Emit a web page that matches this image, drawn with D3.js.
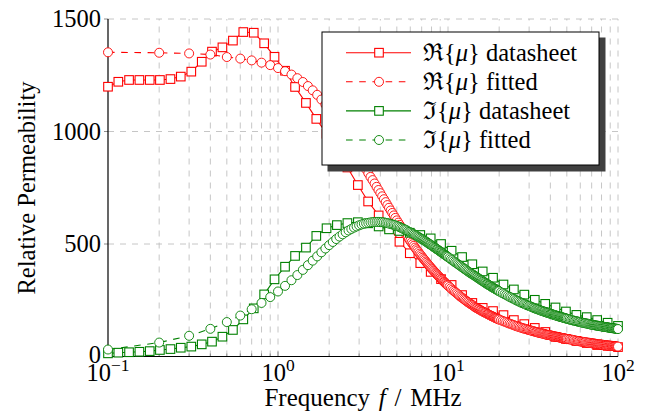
<!DOCTYPE html>
<html><head><meta charset="utf-8">
<script src="https://cdn.jsdelivr.net/npm/d3@7"></script>
<style>
body{margin:0;background:#fff;}
svg{display:block;}
</style></head><body>
<svg id="chart" width="646" height="413" font-family="'Liberation Serif', Tinos, 'Times New Roman', Times, 'DejaVu Serif', serif"></svg>
<script>
// ---------- data ----------
const dsFreq = [0.1,0.115,0.133,0.153,0.176,0.202,0.233,0.268,0.309,0.356,0.409,0.471,0.543,0.625,0.720,0.829,0.954,1.10,1.26,1.46,1.68,1.93,2.22,2.56,2.95,3.39,3.91,4.50,5.18,5.96,6.87,7.91,9.10,10.5,12.1,13.9,16.0,18.4,21.2,24.4,28.1,32.4,37.3,42.9,49.4,56.9,65.5,75.4,86.9,100];
const dsRe = [1199,1221,1229,1229,1229,1229,1233,1244,1266,1310,1355,1374,1404,1442,1439,1392,1332,1270,1198,1127,1056,990,915,840,762,689,627,576,510,459,415,376,344,318,273,238,216,202,184,162,144,127,109,87,78,69,60,51,47,42];
const dsIm = [14,17,19,21,24,29,33,39,44,54,66,88,118,165,214,276,343,399,447,484,536,570,584,593,597,592,578,565,558,550,540,525,500,470,442,410,378,350,320,298,275,252,234,218,200,185,175,162,150,136];

const fitFreq = [
0.1,0.2,0.3,0.4,0.5,0.6,0.7,0.8,0.9,1,1.1,1.2,1.3,1.4,1.5,1.6,1.7,1.8,1.9,2,2.1,2.2,2.3,2.4,2.5,2.6,2.7,2.8,2.9,3,3.1,3.2,3.3,3.4,3.5,3.6,3.7,3.8,3.9,4,4.1,4.2,4.3,4.4,4.5,4.6,4.7,4.8,4.9,5,
5.1,5.2,5.3,5.4,5.5,5.6,5.7,5.8,5.9,6,6.1,6.2,6.3,6.4,6.5,6.6,6.7,6.8,6.9,7,7.1,7.2,7.3,7.4,7.5,7.6,7.7,7.8,7.9,8,8.1,8.2,8.3,8.4,8.5,8.6,8.7,8.8,8.9,9,9.1,9.2,9.3,9.4,9.5,9.6,9.7,9.8,9.9,10,
10.2,10.4,10.6,10.8,11,11.2,11.4,11.6,11.8,12,12.2,12.4,12.6,12.8,13,13.2,13.4,13.6,13.8,14,14.2,14.4,14.6,14.8,15,15.2,15.4,15.6,15.8,16,16.2,16.4,16.6,16.8,17,17.2,17.4,17.6,17.8,18,18.2,18.4,18.6,18.8,19,19.2,19.4,19.6,19.8,20,
20.5,21,21.5,22,22.5,23,23.5,24,24.5,25,25.5,26,26.5,27,27.5,28,28.5,29,29.5,30,30.5,31,31.5,32,32.5,33,33.5,34,34.5,35,35.5,36,36.5,37,37.5,38,38.5,39,39.5,40,40.5,41,41.5,42,42.5,43,43.5,44,44.5,45,45.5,46,46.5,47,47.5,48,48.5,49,49.5,50,
51,52,53,54,55,56,57,58,59,60,61,62,63,64,65,66,67,68,69,70,71,72,73,74,75,76,77,78,79,80,81,82,83,84,85,86,87,88,89,90,91,92,93,94,95,96,97,98,99,100];
const fitRe = [
1352,1350,1347,1342,1331,1324,1316,1306,1295,1282,1268,1253,1237,1220,1202,1183,1163,1142,1120,1098,1076,1054,1032,1010,988,967,946,925,905,886,867,849,831,814,798,784,769,754,740,726,712,699,686,673,661,649,638,627,616,605,
595,585,575,566,557,548,539,530,522,514,506,499,492,484,477,471,464,457,451,445,439,433,428,422,417,411,406,401,396,391,387,382,378,373,369,365,361,357,353,349,345,342,338,334,331,328,324,321,318,315,
309,303,297,292,287,282,277,272,267,263,259,255,251,247,243,240,236,233,230,227,223,220,217,215,212,210,207,205,202,200,198,196,194,192,190,188,186,184,182,180,179,177,175,173,172,170,169,167,166,164,
161,158,155,152,149,146,144,141,139,136,134,132,130,128,126,124,123,121,119,118,116,115,113,112,110,109,108,106,105,104,103,102,101,100,98,97,96,96,95,94,93,92,91,90,89,88,88,87,86,85,84,84,83,82,82,81,80,80,79,78,
77,76,75,74,73,71,70,69,68,67,66,65,65,64,63,62,61,61,60,59,58,58,57,56,56,55,55,54,53,53,52,52,51,51,50,50,49,49,48,48,48,47,47,46,46,46,45,45,44,44];
const fitIm = [
31,62,92,123,153,182,210,238,264,289,314,339,362,385,406,426,445,463,480,495,509,522,533,543,552,560,567,573,578,583,587,590,592,594,596,597,598,598,598,597,597,596,594,593,591,589,587,585,583,580,
578,575,572,569,566,564,561,557,554,552,549,546,543,540,537,534,531,528,525,522,520,517,514,511,508,505,502,499,497,494,491,488,485,483,480,477,475,472,469,467,464,462,459,457,454,452,449,447,445,442,
437,432,428,423,419,415,411,407,403,399,395,391,388,384,380,377,373,370,367,364,361,358,355,352,349,346,343,340,338,335,332,330,327,324,322,320,317,315,313,310,308,306,304,302,300,298,296,294,292,290,
285,281,277,273,269,265,262,258,255,251,248,245,242,239,237,234,232,229,227,225,223,220,218,216,214,212,210,209,207,205,203,202,200,199,197,196,194,193,192,190,189,188,186,185,184,183,181,180,179,178,177,176,175,174,173,172,171,170,169,168,
166,164,162,161,159,158,157,155,154,153,151,150,149,148,147,146,145,144,142,141,141,140,139,138,137,137,136,135,135,134,133,132,132,131,131,130,129,129,128,127,127,126,126,125,125,124,124,123,123,122];

const xTickVals = [0.1,1,10,100];
const xTickExp = ["\u22121","0","1","2"];
const yTickVals = [0,500,1000,1500];
const legendSym = ["\u211C","\u211C","\u2111","\u2111"];
const legendWord = ["datasheet","fitted","datasheet","fitted"];

// ---------- setup ----------
const RED = "#ff0000", GREEN = "#008000";
const FONT = "'Liberation Serif', Tinos, 'Times New Roman', Times, 'DejaVu Serif', serif";
const svg = d3.select("#chart");
const x = d3.scaleLog().domain([0.1,100]).range([108,618]);
const y = d3.scaleLinear().domain([0,1500]).range([356.5,19]);
const FS = 24.5;

// grid
const gridX = x.ticks().filter(v => v > 0.1 + 1e-9);
svg.append("g").selectAll("line").data(gridX).join("line")
  .attr("x1", d => x(d)).attr("x2", d => x(d))
  .attr("y1", y(0)).attr("y2", y(1500))
  .attr("stroke", "#bfbfbf").attr("stroke-width", 0.9).attr("stroke-dasharray", "6,6");
svg.append("g").selectAll("line").data(yTickVals.filter(v => v > 0)).join("line")
  .attr("x1", x(0.1)).attr("x2", x(100))
  .attr("y1", d => y(d)).attr("y2", d => y(d))
  .attr("stroke", "#bfbfbf").attr("stroke-width", 0.9).attr("stroke-dasharray", "6,6");

// axis ticks
svg.append("g").selectAll("line").data(yTickVals).join("line")
  .attr("x1", x(0.1) - 4).attr("x2", x(0.1))
  .attr("y1", d => y(d)).attr("y2", d => y(d))
  .attr("stroke", "#808080").attr("stroke-width", 0.9);
svg.append("g").selectAll("line").data(x.ticks()).join("line")
  .attr("x1", d => x(d)).attr("x2", d => x(d))
  .attr("y1", y(0)).attr("y2", d => y(0) - (xTickVals.includes(d) ? 5 : 3))
  .attr("stroke", "#808080").attr("stroke-width", 0.9);

// axis lines
svg.append("line").attr("x1", x(0.1)).attr("x2", x(0.1)).attr("y1", y(0)+0.5).attr("y2", y(1500))
  .attr("stroke", "#000").attr("stroke-width", 1.2);
svg.append("line").attr("x1", x(0.1)-0.5).attr("x2", x(100)).attr("y1", y(0)).attr("y2", y(0))
  .attr("stroke", "#000").attr("stroke-width", 1.2);

// tick labels
svg.append("g").selectAll("text").data(yTickVals).join("text")
  .attr("font-family", FONT)
  .attr("x", x(0.1) - 7).attr("y", d => y(d) + (d === 0 ? 6 : 8))
  .attr("text-anchor", "end").attr("font-size", FS).text(d => d);
const xl = svg.append("g").selectAll("text").data(xTickVals).join("text")
  .attr("font-family", FONT)
  .attr("x", d => x(d)).attr("y", 381)
  .attr("text-anchor", "middle").attr("font-size", FS);
xl.append("tspan").text("10");
xl.append("tspan").attr("font-size", 17.5).attr("dy", -10).text((d,i) => xTickExp[i]);

// axis titles
const xt = svg.append("text").attr("font-family", FONT).attr("x", 363).attr("y", 406)
  .attr("text-anchor", "middle").attr("font-size", 25).attr("word-spacing", 2.5);
xt.append("tspan").text("Frequency ");
xt.append("tspan").attr("font-style", "italic").text("f");
xt.append("tspan").text(" / MHz");
svg.append("text").attr("font-family", FONT).attr("transform", "translate(35,188) rotate(-90)")
  .attr("text-anchor", "middle").attr("font-size", FS).text("Relative Permeability");

// series
const series = [
  {f: dsFreq, v: dsRe, color: RED, marker: "square", dash: null},
  {f: fitFreq, v: fitRe, color: RED, marker: "circle", dash: "6.6,6.6"},
  {f: dsFreq, v: dsIm, color: GREEN, marker: "square", dash: null},
  {f: fitFreq, v: fitIm, color: GREEN, marker: "circle", dash: "6.6,6.6"}
];
const line = d3.line().x(d => x(d[0])).y(d => y(d[1]));
function drawMarker(g, marker, color, cx, cy) {
  if (marker === "square") {
    g.append("rect").attr("x", cx - 4.3).attr("y", cy - 4.3).attr("width", 8.6).attr("height", 8.6)
      .attr("fill", "#fff").attr("stroke", color).attr("stroke-width", 1.1);
  } else {
    g.append("circle").attr("cx", cx).attr("cy", cy).attr("r", 4.5)
      .attr("fill", "#fff").attr("stroke", color).attr("stroke-width", 0.9);
  }
}
series.forEach(s => {
  const pts = s.f.map((f, i) => [f, s.v[i]]);
  const g = svg.append("g");
  g.append("path").attr("d", line(pts)).attr("fill", "none").attr("stroke", s.color)
    .attr("stroke-width", 1.1).attr("stroke-dasharray", s.dash);
  pts.forEach(p => drawMarker(g, s.marker, s.color, x(p[0]), y(p[1])));
});

// legend
const lg = svg.append("g");
lg.append("rect").attr("x", 327.5).attr("y", 37.5).attr("width", 278).attr("height", 134).attr("fill", "#404040");
lg.append("rect").attr("x", 322).attr("y", 32).attr("width", 277).attr("height", 133)
  .attr("fill", "#fff").attr("stroke", "#000").attr("stroke-width", 1);
series.forEach((s, i) => {
  const ry = 52.7 + i * 29.1;
  lg.append("line").attr("x1", 346).attr("x2", 411).attr("y1", ry).attr("y2", ry)
    .attr("stroke", s.color).attr("stroke-width", 1.1).attr("stroke-dasharray", s.dash);
  drawMarker(lg, s.marker, s.color, 379, ry);
  const t = lg.append("text").attr("font-family", FONT).attr("x", 423).attr("y", ry + 8).attr("font-size", FS);
  t.append("tspan").attr("font-family", "'DejaVu Serif', serif").text(legendSym[i]);
  t.append("tspan").text("{");
  t.append("tspan").attr("font-style", "italic").text("\u03BC");
  t.append("tspan").text("} " + legendWord[i]);
});
</script>
</body></html>
